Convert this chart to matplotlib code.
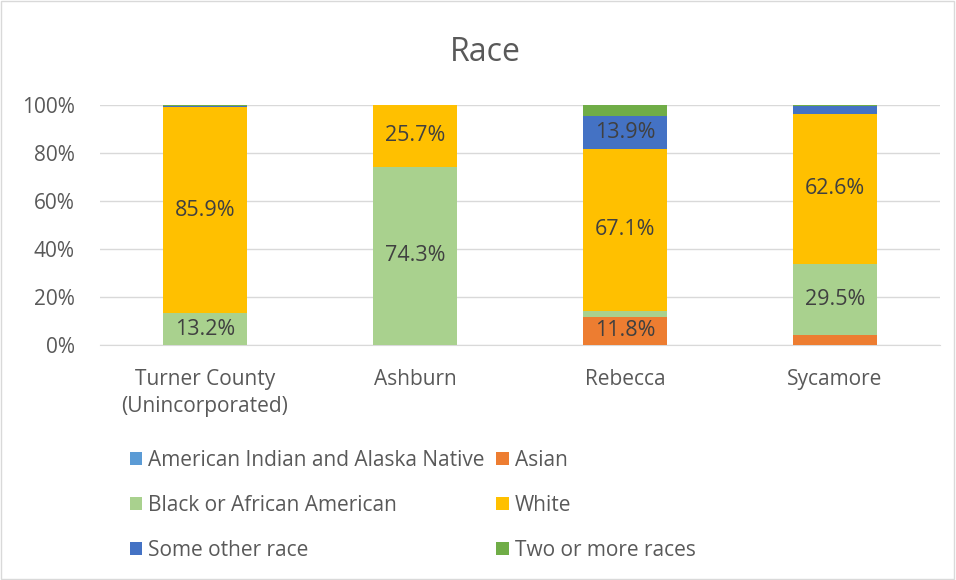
import matplotlib.pyplot as plt
import numpy as np

# data, percent of population
places = ["Turner County\n(Unincorporated)", "Ashburn", "Rebecca", "Sycamore"]
american_indian = [0.0, 0.0, 0.0, 0.0]
asian = [0.0, 0.0, 11.8, 4.3]
black = [13.2, 74.3, 2.6, 29.5]
white = [85.9, 25.7, 67.1, 62.6]
some_other = [0.6, 0.0, 13.9, 3.1]
two_or_more = [0.3, 0.0, 4.6, 0.5]

series = [
	("American Indian and Alaska Native", american_indian, "#5B9BD5"),
	("Asian", asian, "#ED7D31"),
	("Black or African American", black, "#A9D18E"),
	("White", white, "#FFC000"),
	("Some other race", some_other, "#4472C4"),
	("Two or more races", two_or_more, "#70AD47"),
]

txt = "#595959"
plt.rcParams['font.family'] = ['Open Sans', 'DejaVu Sans']

fig = plt.figure(figsize=(9.56, 5.8), dpi=100)
ax = fig.add_axes([0.1046, 0.405, 0.8784, 0.414])

x = np.arange(len(places))
bottom = np.zeros(len(places))
handles = {}
for name, vals, col in series:
	vals = np.array(vals) / 100
	b = ax.bar(x, vals, 0.4, bottom=bottom, color=col, zorder=3)
	handles[name] = b
	for xi, v, b0 in zip(x, vals, bottom):
		if v >= 0.1:
			ax.text(xi, b0 + v / 2, f"{v*100:.1f}%", ha='center', va='center',
				fontsize=15.5, color="#404040", zorder=4)
	bottom += vals

ax.set_xlim(-0.5, 3.5)
ax.set_ylim(0, 1)
ax.set_yticks(np.arange(0, 1.01, 0.2))
ax.set_yticklabels([f"{int(v*100)}%" for v in np.arange(0, 1.01, 0.2)])
ax.set_xticks(x)
ax.set_xticklabels(places, linespacing=1.4)
ax.tick_params(length=0, labelsize=15, labelcolor=txt)
ax.tick_params(axis='x', pad=17)
ax.tick_params(axis='y', pad=18)
ax.grid(axis='y', color="#D9D9D9", lw=1, zorder=0)
for s in ax.spines.values():
	s.set_visible(False)
ax.spines['bottom'].set_visible(True)
ax.spines['bottom'].set_color("#D9D9D9")

fig.text(0.508, 0.91, "Race", ha='center', va='center', fontsize=23, color=txt)

# row-major order in the picture, legend fills columns first
order = ["American Indian and Alaska Native", "Black or African American", "Some other race",
	"Asian", "White", "Two or more races"]
leg = fig.legend([handles[n] for n in order], order, ncol=2, loc='upper left',
	bbox_to_anchor=(0.116, 0.257), frameon=False, fontsize=15,
	handlelength=0.6, handleheight=0.6, handletextpad=0.3, columnspacing=0.55,
	labelspacing=1.15, labelcolor=txt)

fig.patches.append(plt.Rectangle((0.001, 0.001), 0.997, 0.997, transform=fig.transFigure,
	fill=False, edgecolor="#D9D9D9", lw=1))

fig.savefig("out.png", dpi=100)
